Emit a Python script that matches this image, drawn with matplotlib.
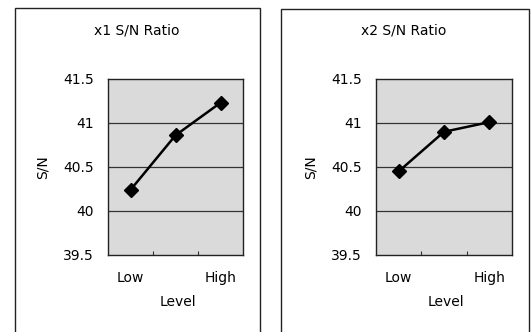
import matplotlib
matplotlib.use('Agg')
import matplotlib.pyplot as plt
from matplotlib.patches import Rectangle

plt.rcParams['font.family'] = ['DejaVu Sans']

LEVELS = ['Low', 'Mid', 'High']
X1_SN = [40.24, 40.86, 41.23]
X2_SN = [40.45, 40.90, 41.01]
TITLES = ['x1 S/N Ratio', 'x2 S/N Ratio']
Y_TICKS = [39.5, 40, 40.5, 41, 41.5]
Y_TICK_LABELS = ['39.5', '40', '40.5', '41', '41.5']

W, H = 532, 332
fig = plt.figure(figsize=(W / 100, H / 100), dpi=100)
fig.patch.set_facecolor('white')


def fx(px):
    return px / W


def fy(py):
    return 1 - py / H


# outer panel frames (bottom edge runs off the page)
for left, right, top in [(15, 260, 8), (281, 529, 9)]:
    fig.patches.append(Rectangle((fx(left), -0.05), fx(right - left), fy(top) + 0.05,
                                 transform=fig.transFigure, fill=False,
                                 edgecolor='#222222', linewidth=1.0))

panels = [(108, 243, X1_SN, 137), (376, 512, X2_SN, 404)]
for (x0, x1, vals, title_x), title in zip(panels, TITLES):
    ax = fig.add_axes([fx(x0), fy(255), fx(x1 - x0), fy(79) - fy(255)])
    ax.set_facecolor('#dadada')
    xs = list(range(1, len(LEVELS) + 1))
    for g in [40, 40.5, 41]:
        ax.axhline(g, color='#333333', linewidth=0.9, zorder=1)
    ax.plot(xs, vals, color='black', linewidth=1.8, marker='D', markersize=7,
            zorder=3)
    ax.set_xlim(0.5, 3.5)
    ax.set_ylim(39.5, 41.5)
    ax.set_yticks(Y_TICKS)
    ax.set_yticklabels(Y_TICK_LABELS, fontsize=10)
    ax.tick_params(axis='y', length=0, pad=10)
    # category ticks between groups, labels only on the ends
    ax.set_xticks([1.5, 2.5])
    ax.set_xticklabels([])
    ax.tick_params(axis='x', direction='in', length=3, width=0.8, color='#333333')
    ax.text(1, -0.09, LEVELS[0], transform=ax.get_xaxis_transform(),
            ha='center', va='top', fontsize=10)
    ax.text(3, -0.09, LEVELS[-1], transform=ax.get_xaxis_transform(),
            ha='center', va='top', fontsize=10)
    for s in ax.spines.values():
        s.set_linewidth(1.0)
        s.set_color('#222222')
    fig.text(fx((x0 + x1) / 2 + 2), fy(302), 'Level', ha='center', va='center',
             fontsize=10)
    fig.text(fx(x0 - 65), fy(167), 'S/N', ha='center', va='center',
             rotation=90, fontsize=10)
    fig.text(fx(title_x), fy(30), title, ha='center', va='center', fontsize=10)

fig.savefig('out.png', dpi=100, facecolor='white')
